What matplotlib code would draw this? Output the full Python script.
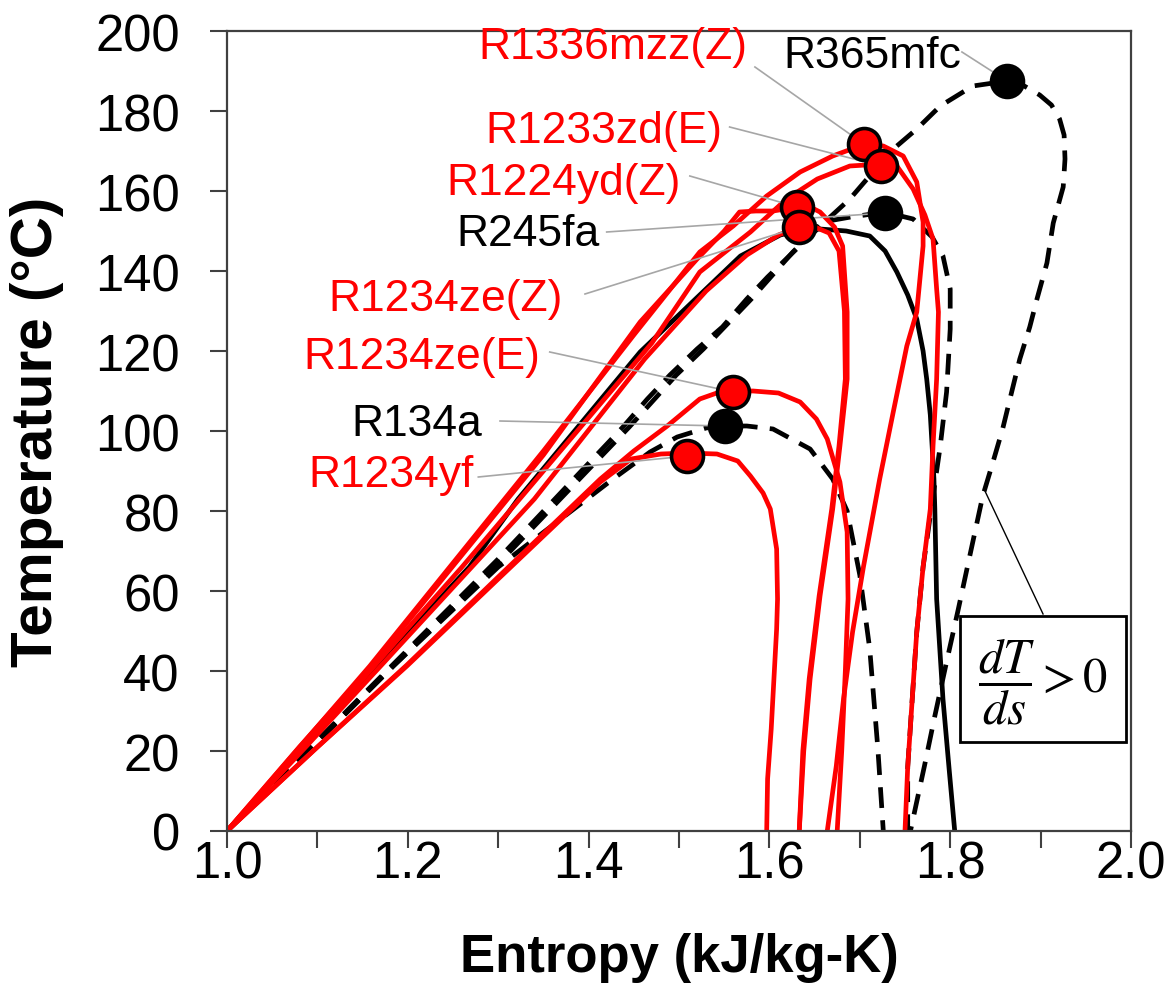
import matplotlib
matplotlib.use("Agg")
import matplotlib.pyplot as plt
from matplotlib.patches import Rectangle

plt.rcParams['font.family'] = ['Liberation Sans', 'DejaVu Sans']
plt.rcParams['mathtext.fontset'] = 'stix'

# ---- saturation curves: entropy s (kJ/kg-K) vs temperature T (°C) ----
# each fluid: saturated-liquid branch (bottom -> top) and saturated-vapour branch (top -> bottom)

yf_s_liq = [1.000, 1.050, 1.100, 1.199, 1.300, 1.413, 1.447, 1.480, 1.510]
yf_T_liq = [0, 10.5, 21, 41.25, 63, 87.25, 93, 94.25, 94.5]
yf_s_vap = [1.542, 1.565, 1.579, 1.593, 1.601, 1.608, 1.609, 1.608, 1.605, 1.602, 1.598, 1.597]
yf_T_vap = [94.25, 92.5, 88.75, 84.5, 80.5, 70.5, 58, 50.5, 38, 25.5, 13, 0]

zeE_s_liq = [1.000, 1.100, 1.199, 1.300, 1.413, 1.450, 1.487, 1.523, 1.545, 1.560]
zeE_T_liq = [0, 21, 41.5, 63.5, 88, 95, 101.25, 108, 109.75, 110]
zeE_s_vap = [1.582, 1.610, 1.634, 1.652, 1.664, 1.678, 1.686, 1.687, 1.684, 1.680, 1.675]
zeE_T_vap = [110, 109.5, 107.25, 103, 98, 87.25, 74.75, 58, 40, 20, 0]

r134a_s_liq = [1.000, 1.090, 1.184, 1.300, 1.427, 1.468, 1.498, 1.530, 1.551]
r134a_T_liq = [0, 20, 41.25, 66, 88, 94.75, 98.5, 100.75, 101.25]
r134a_s_vap = [1.575, 1.604, 1.645, 1.670, 1.686, 1.700, 1.711, 1.720, 1.726]
r134a_T_vap = [101.25, 100.5, 95.5, 88, 80, 64, 45.5, 20.5, 0]

yd_s_liq = [1.000, 1.080, 1.160, 1.250, 1.350, 1.457, 1.520, 1.550, 1.567, 1.585, 1.604, 1.632]
yd_T_liq = [0, 21, 41.25, 66.25, 94, 127.25, 143, 150, 154.75, 155, 155, 156]
yd_s_vap = [1.645, 1.656, 1.672, 1.681, 1.686, 1.686, 1.678, 1.670, 1.656, 1.645, 1.638, 1.633]
yd_T_vap = [156, 154.75, 151, 146.25, 129.75, 113, 96.25, 80.5, 58.75, 38, 20, 0]

zeZ_s_liq = [1.000, 1.085, 1.170, 1.340, 1.462, 1.530, 1.575, 1.610, 1.633]
zeZ_T_liq = [0, 20.5, 41.25, 83, 118, 135, 144, 149, 151]
zeZ_s_vap = [1.650, 1.666, 1.677, 1.683, 1.684, 1.677, 1.669, 1.655, 1.644, 1.637, 1.633]
zeZ_T_vap = [151, 149.5, 145, 130, 113, 96.25, 80.5, 58.75, 38, 20, 0]

blk_s_liq = [1.000, 1.083, 1.166, 1.268, 1.322, 1.457, 1.568, 1.612, 1.635, 1.656]
blk_T_liq = [0, 20.75, 41.25, 66, 83, 119.75, 143.75, 149, 150.25, 150.5]
blk_s_vap = [1.685, 1.711, 1.728, 1.741, 1.753, 1.763, 1.770, 1.774, 1.778, 1.780,
             1.782, 1.783, 1.785, 1.792, 1.799, 1.805]
blk_T_vap = [150, 148.75, 145, 139.75, 134, 128, 120, 113, 104, 96.25,
             88, 80.5, 58, 33, 15, 0]

fa_s_liq = [1.000, 1.092, 1.184, 1.305, 1.445, 1.497, 1.527, 1.580, 1.626, 1.659, 1.690, 1.728]
fa_T_liq = [0, 20.6, 41.25, 68, 101, 114, 120.5, 133, 144.75, 152.25, 153.5, 154.7]
fa_s_vap = [1.759, 1.780, 1.792, 1.800, 1.800, 1.796, 1.789, 1.781, 1.770, 1.763, 1.758, 1.753, 1.753]
fa_T_vap = [153, 148.5, 143.75, 135.5, 125.5, 109.75, 96.25, 83.75, 66, 49.75, 33, 16, 0]

mfc_s_liq = [1.000, 1.091, 1.182, 1.300, 1.438, 1.465, 1.490, 1.520, 1.548, 1.575, 1.598,
             1.630, 1.660, 1.689, 1.708, 1.741, 1.763, 1.789, 1.825, 1.863]
mfc_T_liq = [0, 20.6, 41.25, 68, 101, 108, 114, 120.5, 126, 133, 138.5,
             145.5, 152, 158, 163, 171.25, 175.5, 181.25, 186.25, 187.5]
mfc_s_vap = [1.880, 1.899, 1.912, 1.921, 1.926, 1.927, 1.925, 1.914, 1.907, 1.896, 1.888,
             1.877, 1.868, 1.858, 1.847, 1.836, 1.819, 1.809, 1.795, 1.783, 1.7715, 1.756]
mfc_T_vap = [186.5, 184, 181.5, 178, 174, 168, 161, 152, 142, 133, 126,
             118, 109.75, 100.5, 92, 83.75, 66, 55.5, 41.25, 28.75, 16.25, 0]

mzz_s_liq = [1.000, 1.079, 1.158, 1.250, 1.350, 1.450, 1.523, 1.560, 1.597, 1.634, 1.670, 1.706]
mzz_T_liq = [0, 20.6, 41.25, 67, 95, 124, 144.75, 151.25, 158.75, 164.75, 168.75, 171.75]
mzz_s_vap = [1.726, 1.748, 1.763, 1.770, 1.770, 1.763, 1.752, 1.737, 1.722, 1.704, 1.692, 1.682, 1.674, 1.664]
mzz_T_vap = [171.25, 168.75, 162.25, 152.25, 146.25, 129.75, 121.25, 104.75, 88, 66, 49.75, 33, 16.25, 0]

zd_s_liq = [1.000, 1.082, 1.163, 1.260, 1.380, 1.470, 1.523, 1.579, 1.619, 1.653, 1.689, 1.7245]
zd_T_liq = [0, 20.6, 41.25, 66, 98, 122, 139.75, 149.75, 158, 163, 166.25, 166.75]
zd_s_vap = [1.741, 1.759, 1.772, 1.781, 1.785, 1.787, 1.785, 1.781, 1.778, 1.770, 1.763, 1.758, 1.753, 1.750]
zd_T_vap = [166.25, 160.5, 154, 148, 135.5, 129.75, 113, 96.25, 80.5, 66, 49.75, 33, 16, 0]

# critical points
fluid_names = ['R365mfc', 'R1336mzz(Z)', 'R1233zd(E)', 'R1224yd(Z)', 'R245fa',
               'R1234ze(Z)', 'R1234ze(E)', 'R134a', 'R1234yf']
crit_s = [1.863, 1.7045, 1.7235, 1.6305, 1.728, 1.633, 1.560, 1.551, 1.509]
crit_T = [187.5, 171.75, 166.25, 156.0, 154.5, 151.0, 109.75, 101.25, 93.75]
is_hfo = [False, True, True, True, False, True, True, False, True]

# axis settings
x_ticks = [1.0, 1.2, 1.4, 1.6, 1.8, 2.0]
x_minor = [1.1, 1.3, 1.5, 1.7, 1.9]
y_ticks = [0, 20, 40, 60, 80, 100, 120, 140, 160, 180, 200]

RED = '#ff0000'

fig = plt.figure(figsize=(11.73, 9.95), dpi=100)
ax = fig.add_axes([227 / 1173, 1 - 832 / 995, 904 / 1173, 800 / 995])

dash = (0, (4.4, 2.6))
curves = [
    (mfc_s_liq, mfc_T_liq, mfc_s_vap, mfc_T_vap, 'black', dash),
    (fa_s_liq, fa_T_liq, fa_s_vap, fa_T_vap, 'black', dash),
    (r134a_s_liq, r134a_T_liq, r134a_s_vap, r134a_T_vap, 'black', dash),
    (blk_s_liq, blk_T_liq, blk_s_vap, blk_T_vap, 'black', '-'),
    (mzz_s_liq, mzz_T_liq, mzz_s_vap, mzz_T_vap, RED, '-'),
    (zd_s_liq, zd_T_liq, zd_s_vap, zd_T_vap, RED, '-'),
    (yd_s_liq, yd_T_liq, yd_s_vap, yd_T_vap, RED, '-'),
    (zeZ_s_liq, zeZ_T_liq, zeZ_s_vap, zeZ_T_vap, RED, '-'),
    (zeE_s_liq, zeE_T_liq, zeE_s_vap, zeE_T_vap, RED, '-'),
    (yf_s_liq, yf_T_liq, yf_s_vap, yf_T_vap, RED, '-'),
]
for sl, tl, sv, tv, col, ls in curves:
    ax.plot(sl + sv, tl + tv, color=col, linestyle=ls, lw=3.4,
            solid_joinstyle='round', solid_capstyle='round', zorder=2)

# label text placement (centre) and leader start, in data units
label_pos = {
    'R365mfc':     (1.7135, 194.0, 1.813, 194.75),
    'R1336mzz(Z)': (1.4263, 196.0, 1.584, 191.0),
    'R1233zd(E)':  (1.4165, 175.0, 1.556, 176.0),
    'R1224yd(Z)':  (1.372, 162.25, 1.512, 163.75),
    'R245fa':      (1.333, 149.5, 1.420, 149.75),
    'R1234ze(Z)':  (1.242, 133.0, 1.396, 134.25),
    'R1234ze(E)':  (1.215, 118.75, 1.357, 119.75),
    'R134a':       (1.210, 102.0, 1.302, 102.5),
    'R1234yf':     (1.181, 89.25, 1.278, 88.5),
}
for name, cs, ct, hfo in zip(fluid_names, crit_s, crit_T, is_hfo):
    tx, ty, lx, ly = label_pos[name]
    col = RED if hfo else 'black'
    ax.text(tx, ty, name, color=col, fontsize=32, ha='center', va='center', zorder=5)
    ax.plot([lx, cs], [ly, ct], color='#a6a6a6', lw=1.2, zorder=3)
    ax.plot(cs, ct, 'o', ms=23, mfc=col, mec='black', mew=2.6, zorder=4)

# dT/ds > 0 callout
ax.plot([1.9027, 1.8374], [54.25, 85.5], color='black', lw=1.0, zorder=3)
ax.add_patch(Rectangle((1.811, 22.25), 0.183, 31.5, fc='white', ec='black', lw=2.0, zorder=5))
ax.text(1.9025, 37.5, r'$\dfrac{dT}{ds} > 0$', fontsize=35, ha='center', va='center', zorder=6)

ax.set_xlim(1.0, 2.0)
ax.set_ylim(0, 200)
ax.set_xticks(x_ticks)
ax.set_xticklabels([f'{v:.1f}' for v in x_ticks])
ax.set_xticks(x_minor, minor=True)
ax.set_yticks(y_ticks)
ax.tick_params(axis='both', which='both', direction='out', length=12, width=1.5,
               color='#404040', labelsize=36.5)
ax.tick_params(axis='x', which='major', pad=-6)
ax.tick_params(axis='y', pad=22)
for sp in ax.spines.values():
    sp.set_linewidth(1.6)
    sp.set_color('#404040')

ax.set_xlabel('Entropy (kJ/kg-K)', fontsize=38, fontweight='bold', va='center')
ax.xaxis.set_label_coords(0.5, (832 - 958) / 800)
ax.set_ylabel('Temperature (°C)', fontsize=42, fontweight='bold', va='center')
ax.yaxis.set_label_coords((37 - 227) / 904, 0.5)

fig.savefig('out.png', dpi=100)
